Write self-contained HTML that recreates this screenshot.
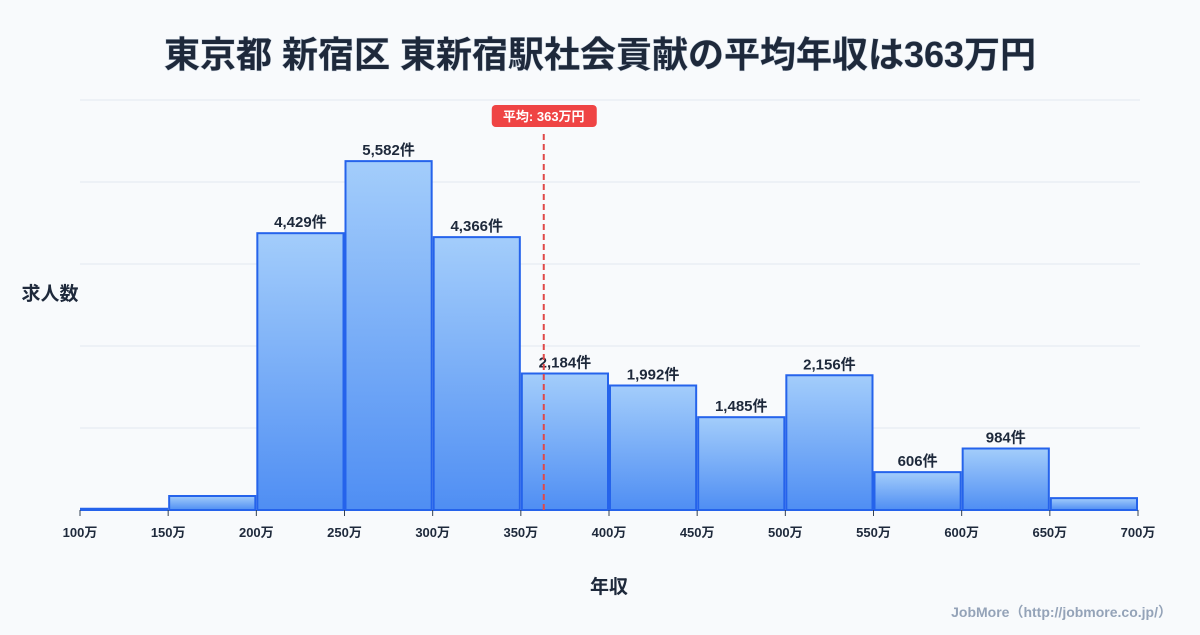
<!DOCTYPE html>
<html><head><meta charset="utf-8">
<style>
body{margin:0;background:#f8fafc;}
svg text{font-family:"Liberation Sans","Noto Sans CJK JP",sans-serif;}
</style></head>
<body>
<svg id="chart" width="1200" height="630" viewBox="0 0 1200 630" xmlns="http://www.w3.org/2000/svg">
<defs>
<linearGradient id="g" x1="0" y1="0" x2="0" y2="1">
<stop offset="0" stop-color="#a3cdfb"/><stop offset="1" stop-color="#4f8ef3"/>
</linearGradient>
</defs>
<rect width="1200" height="630" fill="#f8fafc"/>
<text x="600" y="67" text-anchor="middle" font-size="36" font-weight="bold" fill="#1e293b" style="paint-order:stroke" stroke="#cbd5e1" stroke-width="1">東京都 新宿区 東新宿駅社会貢献の平均年収は363万円</text>
<g id="grid"></g>
<g id="bars"></g>
<g id="xaxis"></g>
<text x="50" y="300" text-anchor="middle" font-size="19" font-weight="bold" fill="#1e293b">求人数</text>
<text x="609" y="593" text-anchor="middle" font-size="19" font-weight="bold" fill="#1e293b">年収</text>
<text x="1172" y="617" text-anchor="end" font-size="14" font-weight="bold" fill="#94a3b8">JobMore（http://jobmore.co.jp/）</text>
<g id="mean"></g>
</svg>
<script>
const binStarts=[100,150,200,250,300,350,400,450,500,550,600,650];
const counts=[20,224,4429,5582,4366,2184,1992,1485,2156,606,984,190];
const labels=["","","4,429件","5,582件","4,366件","2,184件","1,992件","1,485件","2,156件","606件","984件",""];
const xTicks=[100,150,200,250,300,350,400,450,500,550,600,650,700];
const meanValue=363;
const yMax=6560;
const NS="http://www.w3.org/2000/svg";
const X0=80,X1=1138,Y0=510,Y1=100;
const xs=v=>X0+(v-100)/600*(X1-X0);
const ys=v=>Y0-v/yMax*(Y0-Y1);
function mk(tag,attrs,parent){const e=document.createElementNS(NS,tag);for(const k in attrs)e.setAttribute(k,attrs[k]);parent.appendChild(e);return e;}
const grid=document.getElementById('grid');
for(let i=0;i<=5;i++){const y=Y0-i*(Y0-Y1)/5;
const l=mk('line',{x1:X0,x2:1140,y1:y,y2:y,stroke:'#e2e8f0','stroke-width':1},grid);

}
const bars=document.getElementById('bars');
binStarts.forEach((b,i)=>{
const x=xs(b)+1,w=xs(b+50)-xs(b)-2,y=ys(counts[i]);
const r=mk('rect',{x:x,y:y,width:w,height:Y0-y,fill:'url(#g)',stroke:'#2563eb','stroke-width':2},bars);


if(labels[i]){const t=mk('text',{x:x+w/2,y:y-6,'text-anchor':'middle','font-size':15,'font-weight':'bold',fill:'#1e293b'},bars);
t.textContent=labels[i];

}
});
const xa=document.getElementById('xaxis');
xTicks.forEach(v=>{const x=xs(v);
const tk=mk('line',{x1:x,x2:x,y1:Y0,y2:Y0+6,stroke:'#334155','stroke-width':1},xa);


const t=mk('text',{x:x,y:537,'text-anchor':'middle','font-size':13,'font-weight':'bold',fill:'#1e293b'},xa);
t.textContent=v+'万';

});
const m=document.getElementById('mean');const mx=xs(meanValue);
const ml=mk('line',{x1:mx,x2:mx,y1:134,y2:Y0,stroke:'#e04848','stroke-width':2,'stroke-dasharray':'6,4'},m);


const mb=mk('rect',{x:mx-52,y:105,width:105,height:22,rx:4,fill:'#ef4444'},m);


const mt=mk('text',{x:mx,y:121,'text-anchor':'middle','font-size':13,'font-weight':'bold',fill:'#fff'},m);
mt.textContent='平均: '+meanValue+'万円';


</script>
</body></html>
